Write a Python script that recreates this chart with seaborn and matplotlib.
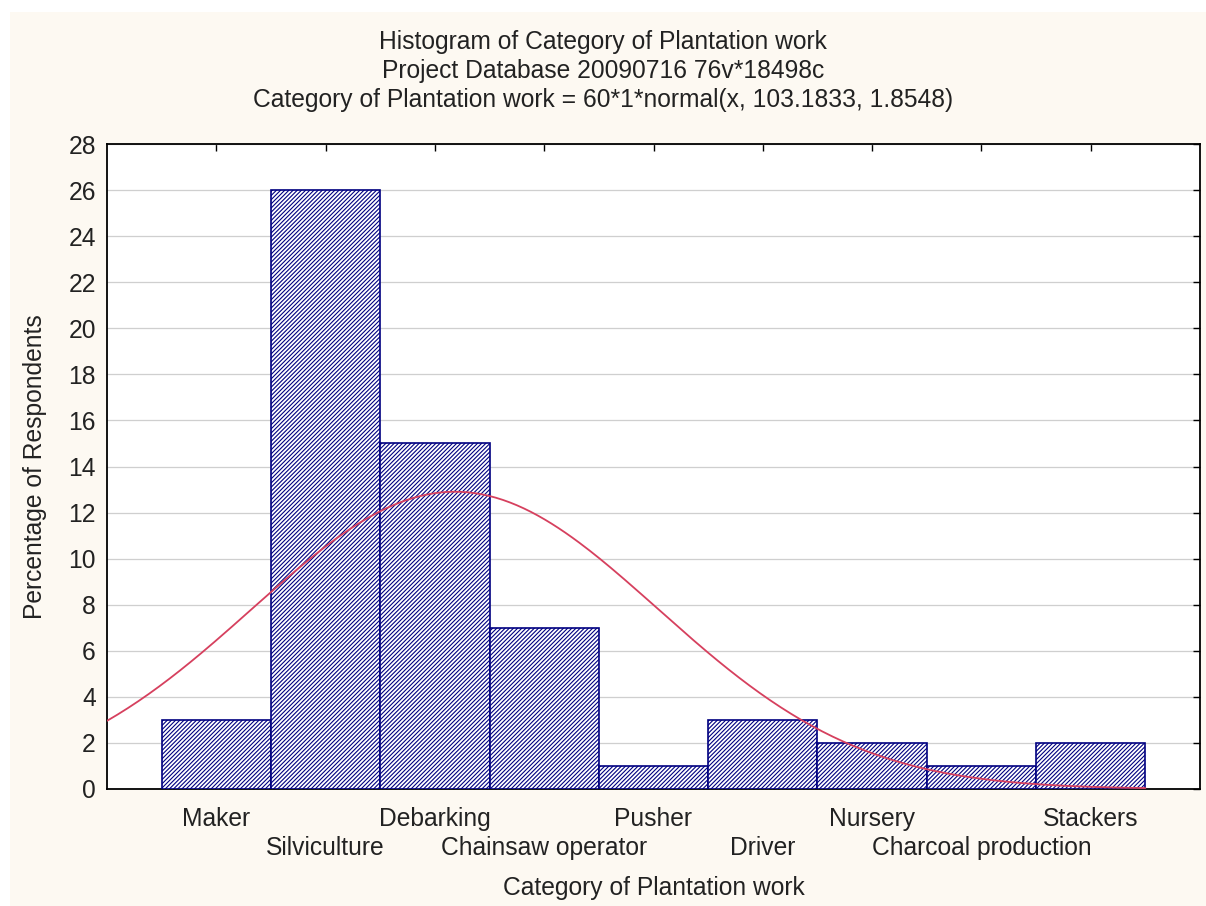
import numpy as np
import pandas as pd
import matplotlib
matplotlib.use("Agg")
import matplotlib.pyplot as plt
import seaborn as sns

# Data
categories = ['Maker', 'Silviculture', 'Debarking', 'Chainsaw operator', 'Pusher',
              'Driver', 'Nursery', 'Charcoal production', 'Stackers']
percentages = [3, 26, 15, 7, 1, 3, 2, 1, 2]
codes = [101, 102, 103, 104, 105, 106, 107, 108, 109]

# fitted normal from the title: 60*1*normal(x, 103.1833, 1.8548)
fit_n, fit_mean, fit_sd = 60, 103.1833, 1.8548

title_lines = ['Histogram of Category of Plantation work',
               'Project Database 20090716 76v*18498c',
               'Category of Plantation work = 60*1*normal(x, 103.1833, 1.8548)']

df = pd.DataFrame({'Category': categories, 'Percent': percentages})

sns.set_style('white')
plt.rcParams['font.family'] = ['Liberation Sans', 'DejaVu Sans']
plt.rcParams['hatch.linewidth'] = 0.8
plt.rcParams['hatch.color'] = '#000080'

FS = 17.7
TXT = '#222222'

fig = plt.figure(figsize=(12.06, 9.06), dpi=100, facecolor='white')
# cream panel behind the chart
bg = plt.Rectangle((10 / 1206, 0), 1 - 10 / 1206, 1 - 12 / 906,
                   transform=fig.transFigure, facecolor='#fdf9f2',
                   edgecolor='none', zorder=-10)
fig.patches.append(bg)
ax = fig.add_axes([107 / 1206, 1 - 789 / 906, 1093 / 1206, 645 / 906])
ax.set_facecolor('white')

sns.barplot(data=df, x='Category', y='Percent', order=categories, width=1,
            color='white', edgecolor='#000080', linewidth=1.2,
            saturation=1, ax=ax, zorder=3)
for p in ax.patches:
    p.set_facecolor('white')
    p.set_hatch('////////')

xs = np.linspace(-1, 8.5, 300)
xcode = xs + codes[0]
ys = fit_n * np.exp(-0.5 * ((xcode - fit_mean) / fit_sd) ** 2) / (fit_sd * np.sqrt(2 * np.pi))
ax.plot(xs, ys, color='#d6405e', linewidth=1.3, zorder=4)

ax.set_xlim(-1, 9)
ax.set_ylim(0, 28)
ax.set_yticks(range(0, 29, 2))
ax.yaxis.grid(True, color='#cfcfcf', linewidth=0.9, zorder=0)
ax.set_axisbelow(True)

# staggered category labels: even ones on the first row, odd ones below
ax.set_xticks(range(0, len(categories), 2))
ax.set_xticklabels(categories[0::2])
ax.set_xticks(range(1, len(categories), 2), minor=True)
ax.set_xticklabels(categories[1::2], minor=True)

ax.tick_params(axis='both', which='both', direction='in', length=5, width=1,
               top=True, right=True, colors='black', labelcolor=TXT, labelsize=FS)
ax.tick_params(axis='x', which='major', pad=13)
ax.tick_params(axis='x', which='minor', pad=34)
ax.tick_params(axis='y', pad=8)
for s in ax.spines.values():
    s.set_visible(True)
    s.set_color('black')
    s.set_linewidth(1.3)

ax.set_xlabel('Category of Plantation work', fontsize=FS, color=TXT)
ax.xaxis.set_label_coords(0.5, -(888 - 789) / 645)
ax.xaxis.label.set_va('center')
ax.set_ylabel('Percentage of Respondents', fontsize=FS, color=TXT)
ax.yaxis.set_label_coords(-(107 - 35) / 1093, 0.5)
ax.yaxis.label.set_va('center')

for i, line in enumerate(title_lines):
    fig.text(0.5, 1 - (42 + 29 * i) / 906, line, ha='center', va='center',
             fontsize=FS, color=TXT)

fig.savefig('out.png', dpi=100, facecolor=fig.get_facecolor())
